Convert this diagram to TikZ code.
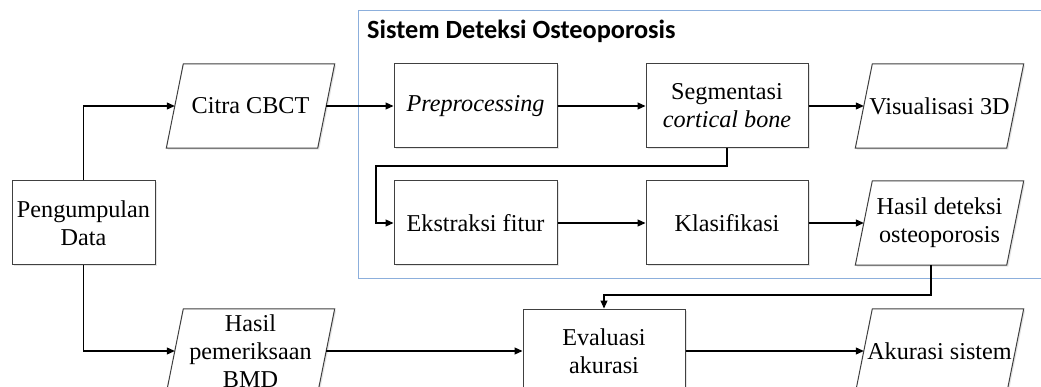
\documentclass[tikz,border=0pt]{standalone}
\usepackage{fontspec}
\setmainfont{Liberation Serif}
\newfontfamily\titlefont{Carlito}
\usetikzlibrary{arrows.meta,shadows,calc}
\definecolor{framecol}{RGB}{140,175,220}
\definecolor{boxgray}{RGB}{64,64,64}
\newcommand{\parabox}[3]{%
  \node[paranode] (#1) at (#2) {};
  \path[parashape] ([xshift=8.5pt]#1.north west) -- ([xshift=8.5pt]#1.north east)
    -- ([xshift=-8.5pt]#1.south east) -- ([xshift=-8.5pt]#1.south west) -- cycle;
  \node[txt] at (#1) {#3};
}
\begin{document}
\begin{tikzpicture}[x=1pt,y=-1pt,
  txt/.style={font=\fontsize{24.2}{28}\selectfont, align=center, inner sep=0pt},
  box/.style={txt, draw=boxgray, line width=1pt, fill=white,
    minimum width=163pt, minimum height=84pt,
    drop shadow={shadow xshift=1.5pt, shadow yshift=-1.5pt, opacity=0.2}},
  paranode/.style={txt, minimum width=151pt, minimum height=84pt},
  parashape/.style={draw=boxgray, line width=1pt, fill=white,
    drop shadow={shadow xshift=1.5pt, shadow yshift=-1.5pt, opacity=0.2}},
  arr/.style={line width=1.1pt, -{Triangle[length=8pt,width=7pt]}},
  frame/.style={draw=framecol, line width=1pt}
]
\clip (0,0) rectangle (1041,387);
\fill[white] (0,0) rectangle (1041,387);

% system frame
\draw[frame] (358,11) rectangle (1045,279);
\node[anchor=base west, inner sep=0pt, font=\titlefont\bfseries\fontsize{26.3}{30}\selectfont] (title) at (367,39) {Sistem Deteksi Osteoporosis};

% rectangles
\node[box, minimum width=143pt] (pd) at (83.5,223) {Pengumpulan\\Data};
\node[box] (pre) at (475.5,106) {\itshape Preprocessing};
\node[box, minimum width=162pt] (seg) at (727,106) {Segmentasi\\\itshape cortical bone};
\node[box] (eks) at (475.5,223) {Ekstraksi fitur};
\node[box, minimum width=162pt] (kla) at (727,223) {Klasifikasi};
\node[box, minimum width=162pt] (eva) at (604,351) {Evaluasi\\akurasi};

% parallelograms
\parabox{citra}{250.5,106}{Citra CBCT}
\parabox{vis}{939.5,106}{Visualisasi 3D}
\parabox{hd}{939.5,223}{Hasil deteksi\\osteoporosis}
\parabox{bmd}{250.5,351}{Hasil\\pemeriksaan\\BMD}
\parabox{aku}{939.5,351}{Akurasi sistem}

% helper coordinates
\coordinate (c1) at (376,166);
\coordinate (hdb) at ([xshift=-8.5pt]hd.south);
\coordinate (c2) at (604,295);

% connectors
\draw[arr] (pd.north) |- (citra.west);
\draw[arr] (pd.south) |- (bmd.west);
\draw[arr] (citra.east) -- (pre.west);
\draw[arr] (pre.east) -- (seg.west);
\draw[arr] (seg.east) -- (vis.west);
\draw[arr] (seg.south) |- (c1) |- (eks.west);
\draw[arr] (eks.east) -- (kla.west);
\draw[arr] (kla.east) -- (hd.west);
\draw[arr] (hdb) |- (c2) -- (eva.north);
\draw[arr] (bmd.east) -- (eva.west);
\draw[arr] (eva.east) -- (aku.west);
\end{tikzpicture}
\end{document}
